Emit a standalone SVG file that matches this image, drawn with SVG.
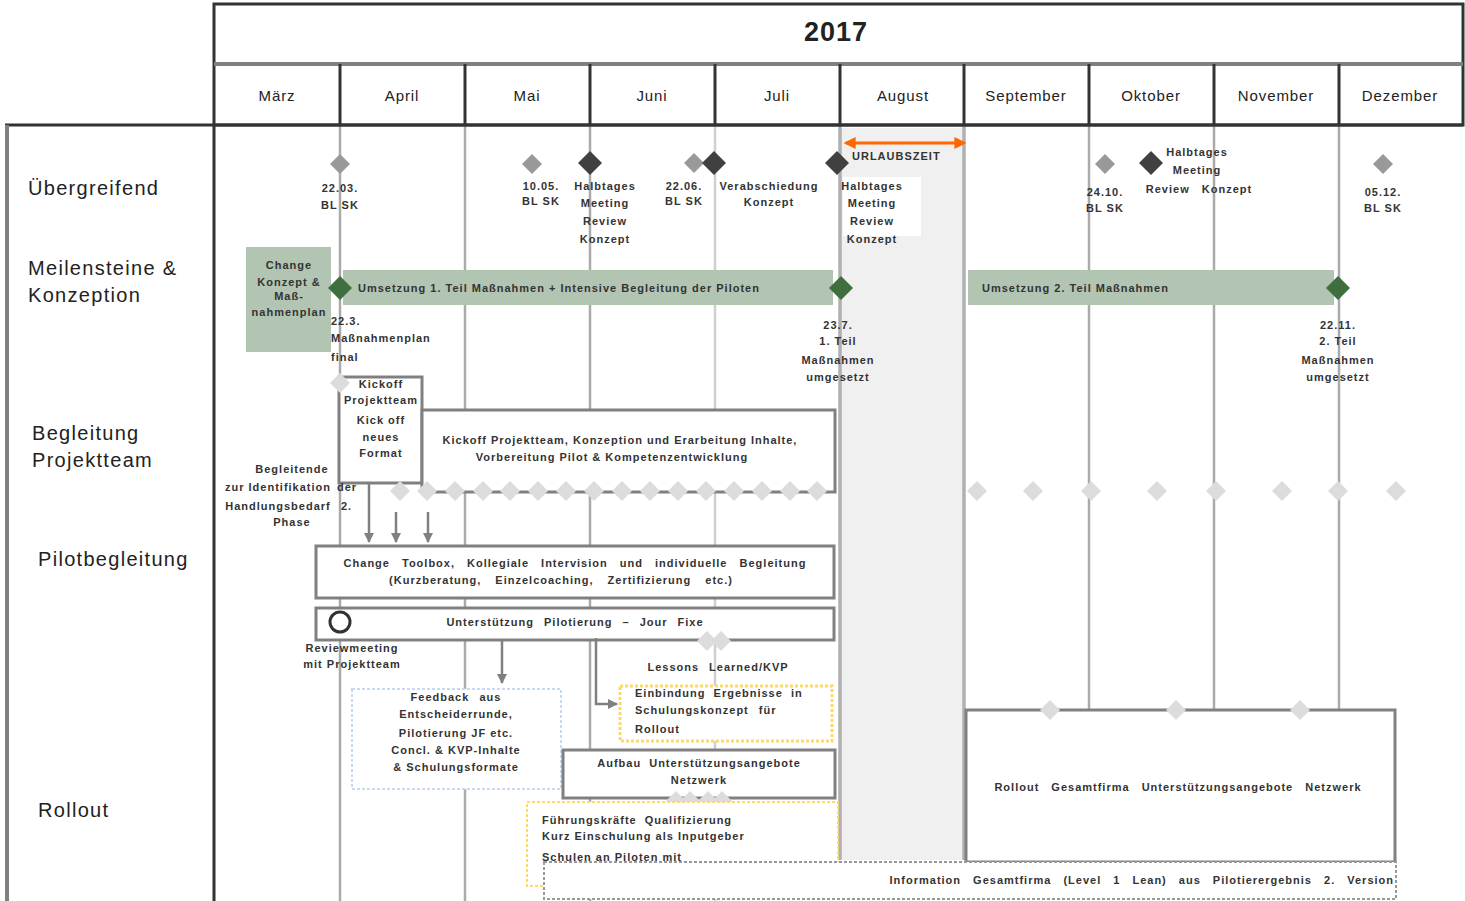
<svg xmlns="http://www.w3.org/2000/svg" width="1465" height="901" viewBox="0 0 1465 901">
<style>
text{font-family:"Liberation Sans",Arial,sans-serif;fill:#222}
.mo{font-size:15px;text-anchor:middle;letter-spacing:0.9px}
.lab{font-size:20px;fill:#222;letter-spacing:1.3px}
.s{font-size:11px;font-weight:bold;fill:#333;letter-spacing:1px}
.c{text-anchor:middle}
.vl{stroke:#aaa;stroke-width:2.5}
.vll{stroke:#cfcfcf;stroke-width:2.5}
.box{fill:#fff;stroke:#808080;stroke-width:3}
.bar{fill:#b2c4b2}
.dl{fill:#999}
.dd{fill:#404040}
.dg{fill:#3f6e3f}
.dx{fill:#dcdcdc}
.arr{stroke:#808080;stroke-width:2.5;fill:none}
</style>
<defs>
<polygon id="dia" points="0,-10 10,0 0,10 -10,0"/>
<polygon id="diab" points="0,-12 12,0 0,12 -12,0"/>
<marker id="ah" viewBox="0 0 10 10" refX="9" refY="5" markerWidth="4" markerHeight="4" orient="auto"><path d="M0,0 L10,5 L0,10 Z" fill="#808080"/></marker>
<marker id="ao" viewBox="0 0 10 10" refX="8" refY="5" markerWidth="4" markerHeight="4" orient="auto-start-reverse"><path d="M0,0 L10,5 L0,10 Z" fill="#ff6600"/></marker>
</defs>
<rect width="1465" height="901" fill="#fff"/>

<g id="grid">
<rect x="840" y="128" width="124" height="732" fill="#f0f0f0"/>
<line class="vl" x1="340" y1="125" x2="340" y2="901"/>
<line class="vl" x1="465" y1="125" x2="465" y2="901"/>
<line class="vl" x1="590" y1="125" x2="590" y2="901"/>
<line class="vll" x1="715" y1="125" x2="715" y2="901"/>
<line stroke="#b0b0b0" stroke-width="3.5" x1="840" y1="125" x2="840" y2="860"/>
<line stroke="#b0b0b0" stroke-width="3.5" x1="964" y1="125" x2="964" y2="860"/>
<line class="vl" x1="1089" y1="125" x2="1089" y2="710"/>
<line class="vl" x1="1214" y1="125" x2="1214" y2="710"/>
<line class="vl" x1="1339" y1="125" x2="1339" y2="710"/>
</g>

<g id="header">
<rect x="214" y="4" width="1249" height="121" fill="none" stroke="#333" stroke-width="3"/>
<line x1="214" y1="64" x2="1463" y2="64" stroke="#808080" stroke-width="4"/>
<line x1="5" y1="125" x2="1463" y2="125" stroke="#333" stroke-width="3"/>
<text x="836" y="41" font-size="27" font-weight="bold" text-anchor="middle" letter-spacing="1">2017</text>
<g stroke="#333" stroke-width="3">
<line x1="340" y1="64" x2="340" y2="125"/><line x1="465" y1="64" x2="465" y2="125"/>
<line x1="590" y1="64" x2="590" y2="125"/><line x1="715" y1="64" x2="715" y2="125"/>
<line x1="840" y1="64" x2="840" y2="125"/><line x1="964" y1="64" x2="964" y2="125"/>
<line x1="1089" y1="64" x2="1089" y2="125"/><line x1="1214" y1="64" x2="1214" y2="125"/>
<line x1="1339" y1="64" x2="1339" y2="125"/>
</g>
<text class="mo" x="277" y="101">März</text>
<text class="mo" x="402" y="101">April</text>
<text class="mo" x="527" y="101">Mai</text>
<text class="mo" x="652" y="101">Juni</text>
<text class="mo" x="777" y="101">Juli</text>
<text class="mo" x="903" y="101">August</text>
<text class="mo" x="1026" y="101">September</text>
<text class="mo" x="1151" y="101">Oktober</text>
<text class="mo" x="1276" y="101">November</text>
<text class="mo" x="1400" y="101">Dezember</text>
</g>

<g id="lanes">
<line x1="7" y1="125" x2="7" y2="901" stroke="#808080" stroke-width="4"/>
<line x1="214" y1="125" x2="214" y2="901" stroke="#333" stroke-width="3"/>
<text class="lab" x="28" y="195">Übergreifend</text>
<text class="lab" x="28" y="275">Meilensteine &amp;</text>
<text class="lab" x="28" y="302">Konzeption</text>
<text class="lab" x="32" y="440">Begleitung</text>
<text class="lab" x="32" y="467">Projektteam</text>
<text class="lab" x="38" y="566">Pilotbegleitung</text>
<text class="lab" x="38" y="817">Rollout</text>
</g>

<g id="ueber">
<use href="#dia" class="dl" x="340" y="164"/>
<text class="s c" x="340" y="192">22.03.</text><text class="s c" x="340" y="209">BL SK</text>
<use href="#dia" class="dl" x="532" y="164"/>
<text class="s c" x="541" y="190">10.05.</text><text class="s c" x="541" y="205">BL SK</text>
<use href="#diab" class="dd" x="590" y="163"/>
<text class="s c" x="605" y="190">Halbtages</text><text class="s c" x="605" y="207">Meeting</text><text class="s c" x="605" y="225">Review</text><text class="s c" x="605" y="243">Konzept</text>
<use href="#dia" class="dl" x="694" y="163"/>
<use href="#diab" class="dd" x="714" y="163"/>
<text class="s c" x="684" y="190">22.06.</text><text class="s c" x="684" y="205">BL SK</text>
<text class="s c" x="769" y="190">Verabschiedung</text><text class="s c" x="769" y="206">Konzept</text>
<use href="#diab" class="dd" x="837" y="163"/>
<rect x="843" y="177" width="78" height="59" fill="#fff"/>
<text class="s c" x="872" y="190">Halbtages</text><text class="s c" x="872" y="207">Meeting</text><text class="s c" x="872" y="225">Review</text><text class="s c" x="872" y="243">Konzept</text>
<line x1="846" y1="143" x2="964" y2="143" stroke="#ff6600" stroke-width="3" marker-start="url(#ao)" marker-end="url(#ao)"/>
<text class="s" x="852" y="160" letter-spacing="0.3">URLAUBSZEIT</text>
<use href="#dia" class="dl" x="1105" y="164"/>
<text class="s c" x="1105" y="196">24.10.</text><text class="s c" x="1105" y="212">BL SK</text>
<use href="#diab" class="dd" x="1151" y="163"/>
<text class="s c" x="1197" y="156">Halbtages</text><text class="s c" x="1197" y="174">Meeting</text><text class="s c" x="1199" y="193" word-spacing="8">Review Konzept</text>
<use href="#dia" class="dl" x="1383" y="164"/>
<text class="s c" x="1383" y="196">05.12.</text><text class="s c" x="1383" y="212">BL SK</text>
</g>

<g id="meilen">
<rect x="246" y="247" width="85" height="105" class="bar"/>
<text class="s c" x="289" y="269">Change</text><text class="s c" x="289" y="286">Konzept &amp;</text><text class="s c" x="289" y="300">Maß-</text><text class="s c" x="289" y="316">nahmenplan</text>
<rect x="343" y="270" width="490" height="35" class="bar"/>
<text class="s" x="358" y="292">Umsetzung 1. Teil Maßnahmen + Intensive Begleitung der Piloten</text>
<use href="#diab" class="dg" x="340" y="288"/>
<use href="#diab" class="dg" x="841" y="288"/>
<rect x="968" y="270" width="366" height="35" class="bar"/>
<text class="s" x="982" y="292">Umsetzung 2. Teil Maßnahmen</text>
<use href="#diab" class="dg" x="1338" y="288"/>
<text class="s" x="331" y="325">22.3.</text><text class="s" x="331" y="342">Maßnahmenplan</text><text class="s" x="331" y="361">final</text>
<text class="s c" x="838" y="329">23.7.</text><text class="s c" x="838" y="345">1. Teil</text><text class="s c" x="838" y="364">Maßnahmen</text><text class="s c" x="838" y="381">umgesetzt</text>
<text class="s c" x="1338" y="329">22.11.</text><text class="s c" x="1338" y="345">2. Teil</text><text class="s c" x="1338" y="364">Maßnahmen</text><text class="s c" x="1338" y="381">umgesetzt</text>
</g>

<g id="begleitung">
<rect x="339" y="377" width="83" height="106" class="box"/>
<use href="#dia" class="dx" x="340" y="383"/>
<text class="s c" x="381" y="388">Kickoff</text><text class="s c" x="381" y="404">Projektteam</text><text class="s c" x="381" y="424">Kick off</text><text class="s c" x="381" y="441">neues</text><text class="s c" x="381" y="457">Format</text>
<rect x="422" y="410" width="413" height="82" class="box"/>
<text class="s c" x="620" y="444">Kickoff Projektteam, Konzeption und Erarbeitung Inhalte,</text>
<text class="s c" x="612" y="461">Vorbereitung Pilot &amp; Kompetenzentwicklung</text>
<text class="s c" x="292" y="473">Begleitende</text><text class="s c" x="278" y="491">zur Identifikation</text><text class="s" x="337" y="491">der</text>
<text class="s c" x="278" y="510">Handlungsbedarf</text><text class="s" x="341" y="510">2.</text><text class="s c" x="292" y="526">Phase</text>
<g class="dx">
<use href="#dia" x="400" y="491"/><use href="#dia" x="427" y="491"/><use href="#dia" x="455" y="491"/><use href="#dia" x="483" y="491"/>
<use href="#dia" x="510" y="491"/><use href="#dia" x="538" y="491"/><use href="#dia" x="566" y="491"/><use href="#dia" x="594" y="491"/>
<use href="#dia" x="622" y="491"/><use href="#dia" x="650" y="491"/><use href="#dia" x="678" y="491"/><use href="#dia" x="706" y="491"/>
<use href="#dia" x="734" y="491"/><use href="#dia" x="762" y="491"/><use href="#dia" x="790" y="491"/><use href="#dia" x="817" y="491"/>
<use href="#dia" x="977" y="491"/><use href="#dia" x="1033" y="491"/><use href="#dia" x="1091" y="491"/><use href="#dia" x="1157" y="491"/>
<use href="#dia" x="1216" y="491"/><use href="#dia" x="1282" y="491"/><use href="#dia" x="1338" y="491"/><use href="#dia" x="1396" y="491"/>
</g>
</g>

<g id="pilot">
<rect x="316" y="546" width="518" height="52" class="box"/>
<text class="s c" x="575" y="567" word-spacing="8">Change Toolbox, Kollegiale Intervision und individuelle Begleitung</text>
<text class="s c" x="561" y="584" word-spacing="10">(Kurzberatung, Einzelcoaching, Zertifizierung etc.)</text>
<rect x="316" y="608" width="518" height="32" class="box"/>
<circle cx="340" cy="622" r="10" fill="none" stroke="#333" stroke-width="3"/>
<text class="s c" x="575" y="626" word-spacing="6">Unterstützung Pilotierung – Jour Fixe</text>
<use href="#dia" class="dx" x="707" y="641"/><use href="#dia" class="dx" x="721" y="641"/>
<text class="s c" x="352" y="652">Reviewmeeting</text><text class="s c" x="352" y="668">mit Projektteam</text>
<text class="s c" x="718" y="671" word-spacing="6">Lessons Learned/KVP</text>
</g>

<g id="rollout">
<rect x="352" y="689" width="209" height="100" fill="#fff" stroke="#c9d8f5" stroke-width="2" stroke-dasharray="3,2"/>
<text class="s c" x="456" y="701" word-spacing="6">Feedback aus</text><text class="s c" x="456" y="718">Entscheiderrunde,</text>
<text class="s c" x="456" y="737">Pilotierung JF etc.</text><text class="s c" x="456" y="754">Concl. &amp; KVP-Inhalte</text>
<text class="s c" x="456" y="771">&amp; Schulungsformate</text>
<rect x="620" y="686" width="212" height="55" fill="#fff" stroke="#ffd966" stroke-width="3" stroke-dasharray="3,2"/>
<text class="s" x="635" y="697" word-spacing="4">Einbindung Ergebnisse in</text><text class="s" x="635" y="714" word-spacing="6">Schulungskonzept für</text><text class="s" x="635" y="733">Rollout</text>
<rect x="563" y="750" width="272" height="48" class="box"/>
<text class="s c" x="699" y="767" word-spacing="4">Aufbau Unterstützungsangebote</text><text class="s c" x="699" y="784">Netzwerk</text>
<use href="#dia" class="dx" x="676" y="801"/><use href="#dia" class="dx" x="690" y="801"/>
<use href="#dia" class="dx" x="708" y="801"/><use href="#dia" class="dx" x="722" y="801"/>
<rect x="527" y="802" width="311" height="84" fill="#fff" stroke="#ffd966" stroke-width="2" stroke-dasharray="3,2"/>
<text class="s" x="542" y="824" word-spacing="4">Führungskräfte Qualifizierung</text><text class="s" x="542" y="840">Kurz Einschulung als Inputgeber</text><text class="s" x="542" y="861">Schulen an Piloten mit</text>
<rect x="966" y="710" width="429" height="152" class="box"/>
<use href="#dia" class="dx" x="1050" y="710"/><use href="#dia" class="dx" x="1176" y="710"/><use href="#dia" class="dx" x="1300" y="710"/>
<text class="s c" x="1178" y="791" word-spacing="8">Rollout Gesamtfirma Unterstützungsangebote Netzwerk</text>
<rect x="544" y="862" width="852" height="37" fill="#fff" stroke="#999" stroke-width="2" stroke-dasharray="3,2"/>
<text class="s" x="1394" y="884" text-anchor="end" word-spacing="8">Information Gesamtfirma (Level 1 Lean) aus Pilotierergebnis 2. Version</text>
</g>

<g id="connectors">
<line class="arr" x1="369" y1="483" x2="369" y2="542" marker-end="url(#ah)"/>
<line class="arr" x1="396" y1="512" x2="396" y2="542" marker-end="url(#ah)"/>
<line class="arr" x1="428" y1="512" x2="428" y2="542" marker-end="url(#ah)"/>
<line class="arr" x1="502" y1="640" x2="502" y2="683" marker-end="url(#ah)"/>
<polyline class="arr" points="596,638 596,704 617,704" marker-end="url(#ah)"/>
</g>
</svg>
